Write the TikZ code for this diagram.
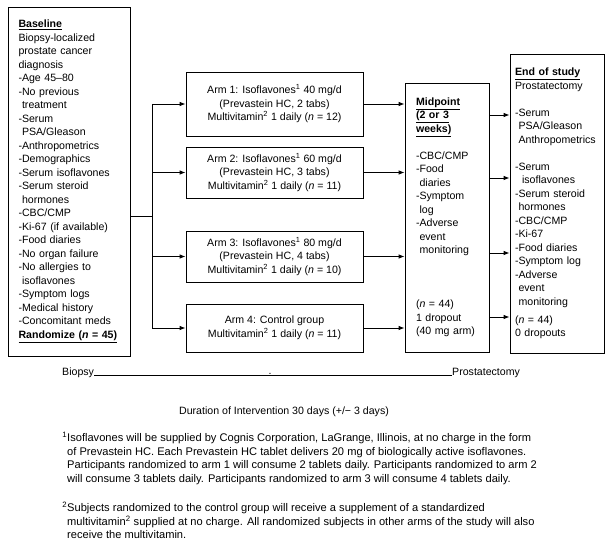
\documentclass[tikz,border=0pt]{standalone}
\usepackage{fontspec}
\setmainfont{Liberation Sans}
\usetikzlibrary{
	positioning,   %定位
	arrows.meta    %箭头
}
\newcommand{\ind}{\hphantom{-}}
\tikzset{
	every picture/.style={
		>={Latex[length=6pt,width=4.5pt]},
		node distance=5mm and 5mm
}}
\tikzset{
	box/.style={draw,line width=0.8pt,inner ysep=0pt,
		font=\fontsize{10.6}{13.5}\selectfont},
	listbox/.style={box,align=left},
	armbox/.style={box,align=center,minimum width=177pt},
	flow/.style={line width=0.8pt,->},
	note/.style={font=\fontsize{10.6}{13.5}\selectfont,inner sep=0pt},
	fnote/.style={note,font=\fontsize{11.1}{13.6}\selectfont,align=left}
}

\begin{document}
\begin{tikzpicture}[x=1pt,y=-1pt]
\useasboundingbox (0,0) rectangle (612,540);
% boxes
\node[listbox,text width=101pt,inner xsep=10.5pt,minimum height=349pt] (baseline) at (69,181.5)
{\underline{\textbf{Baseline}}\\ Biopsy-localized\\ prostate cancer\\ diagnosis\\ -Age 45–80\\ -No previous\\ \ind treatment\\ -Serum\\ \ind PSA/Gleason\\ -Anthropometrics\\ -Demographics\\ -Serum isoflavones\\ -Serum steroid\\ \ind hormones\\ -CBC/CMP\\ -Ki-67 (if available)\\ -Food diaries\\ -No organ failure\\ -No allergies to\\ \ind isoflavones\\ -Symptom logs\\ -Medical history\\ -Concomitant meds\\ \underline{\textbf{Randomize (\textit{n} = 45)}}};
\node[armbox,minimum height=64pt] (arm1) at (274.5,104)
{Arm 1: Isoflavones\textsuperscript{1} 40 mg/d\\ (Prevastein HC, 2 tabs)\\ Multivitamin\textsuperscript{2} 1 daily (\textit{n} = 12)};
\node[armbox,minimum height=51pt] (arm2) at (274.5,172.5)
{Arm 2: Isoflavones\textsuperscript{1} 60 mg/d\\ (Prevastein HC, 3 tabs)\\ Multivitamin\textsuperscript{2} 1 daily (\textit{n} = 11)};
\node[armbox,minimum height=51pt] (arm3) at (274.5,256.5)
{Arm 3: Isoflavones\textsuperscript{1} 80 mg/d\\ (Prevastein HC, 4 tabs)\\ Multivitamin\textsuperscript{2} 1 daily (\textit{n} = 10)};
\node[armbox,minimum height=48pt] (arm4) at (274.5,328)
{Arm 4: Control group\\ Multivitamin\textsuperscript{2} 1 daily (\textit{n} = 11)};
\node[listbox,text width=62pt,inner xsep=11pt,minimum height=269pt] (mid) at (447,217.5)
{\underline{\textbf{Midpoint}}\\ \underline{\textbf{(2 or 3}}\\ \underline{\textbf{weeks)}}\\[13.5pt] -CBC/CMP\\ -Food\\ \ind diaries\\ -Symptom\\ \ind log\\ -Adverse\\ \ind event\\ \ind monitoring\\[40.5pt] (\textit{n} = 44)\\ 1 dropout\\ (40 mg arm)};
\node[listbox,text width=84pt,inner xsep=5pt,minimum height=299pt] (endst) at (557,203.5)
{\underline{\textbf{End of study}}\\ Prostatectomy\\[13.5pt] -Serum\\ \ind PSA/Gleason\\ \ind Anthropometrics\\[13.5pt] -Serum\\ \ind\ind isoflavones\\ -Serum steroid\\ \ind hormones\\ -CBC/CMP\\ -Ki-67\\ -Food diaries\\ -Symptom log\\ -Adverse\\ \ind event\\ \ind monitoring\\[4.5pt] (\textit{n} = 44)\\ 0 dropouts};
% connectors
\coordinate (split) at (152,216);
\draw[line width=0.8pt] (baseline.east |- split) -- (split);
\draw[line width=0.8pt] (split |- arm1) -- (split |- arm4);
\foreach \a in {arm1,arm2,arm3,arm4}{
	\draw[flow] (split |- \a) -- (\a.west);
	\draw[flow] (\a.east) -- (\a.east -| mid.west);
}
\foreach \y in {115,178,253,317}
	\draw[flow] (mid.east |- 0,\y) -- (endst.west |- 0,\y);
% time line
\node[note,anchor=base west] (biopsy) at (62,375) {Biopsy};
\node[note,anchor=base west] (prost) at (452,375) {Prostatectomy};
\draw[line width=0.6pt] (biopsy.base east) -- (prost.base west);
\node[note,anchor=base] (dot) at (270,374) {.};
\node[note] (dur) at (284,412) {Duration of Intervention 30 days (+/− 3 days)};
% footnotes
\node[fnote,anchor=north west] (fn1) at (67,432)
{\llap{\textsuperscript{1}}Isoflavones will be supplied by Cognis Corporation, LaGrange, Illinois, at no charge in the form\\ of Prevastein HC. Each Prevastein HC tablet delivers 20 mg of biologically active isoflavones.\\ Participants randomized to arm 1 will consume 2 tablets daily. Participants randomized to arm 2\\ will consume 3 tablets daily. Participants randomized to arm 3 will consume 4 tablets daily.};
\node[fnote,below=17pt of fn1.south west,anchor=north west] (fn2)
{\llap{\textsuperscript{2}}Subjects randomized to the control group will receive a supplement of a standardized\\ multivitamin\textsuperscript{2} supplied at no charge. All randomized subjects in other arms of the study will also\\ receive the multivitamin.};
\end{tikzpicture}
\end{document}
